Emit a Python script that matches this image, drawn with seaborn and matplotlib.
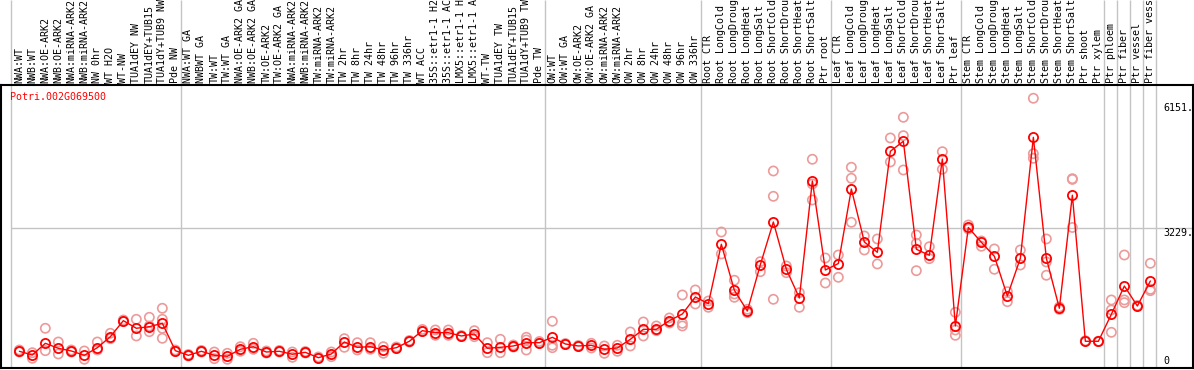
import numpy as np
import pandas as pd
import matplotlib
matplotlib.use("Agg")
import matplotlib.pyplot as plt
import seaborn as sns

gene_id = "Potri.002G069500"

sample_labels = [
    "NWA:WT", "NWB:WT", "NWA:OE-ARK2", "NWB:OE-ARK2", "NWA:miRNA-ARK2", "NWB:miRNA-ARK2",
    "NW 0hr", "WT H2O", "WT-NW", "TUA1dEY NW", "TUA1dEY+TUB15", "TUA1dY+TUB9 NW", "Pde NW",
    "NWA:WT GA", "NWBWT GA", "TW:WT", "TW:WT GA", "NWA:OE-ARK2 GA", "NWB:OE-ARK2 GA",
    "TW:OE-ARK2", "TW:OE-ARK2 GA", "NWA:miRNA-ARK2", "NWB:miRNA-ARK2", "TW:miRNA-ARK2",
    "TW:miRNA-ARK2", "TW 2hr", "TW 8hr", "TW 24hr", "TW 48hr", "TW 96hr", "TW 336hr",
    "WT ACC", "35S::etr1-1 H2", "35S::etr1-1 AC", "LMX5::etr1-1 H", "LMX5::etr1-1 A",
    "WT-TW", "TUA1dEY TW", "TUA1dEY+TUB15", "TUA1dY+TUB9 TW", "Pde TW",
    "OW:WT", "OW:WT GA", "OW:OE-ARK2", "OW:OE-ARK2 GA", "OW:miRNA-ARK2", "OW:miRNA-ARK2",
    "OW 2hr", "OW 8hr", "OW 24hr", "OW 48hr", "OW 96hr", "OW 336hr",
    "Root CTR", "Root LongCold", "Root LongDroug", "Root LongHeat", "Root LongSalt",
    "Root ShortCold", "Root ShortDrou", "Root ShortHeat", "Root ShortSalt", "Ptr root",
    "Leaf CTR", "Leaf LongCold", "Leaf LongDroug", "Leaf LongHeat", "Leaf LongSalt",
    "Leaf ShortCold", "Leaf ShortDrou", "Leaf ShortHeat", "Leaf ShortSalt", "Ptr leaf",
    "Stem CTR", "Stem LongCold", "Stem LongDroug", "Stem LongHeat", "Stem LongSalt",
    "Stem ShortCold", "Stem ShortDrou", "Stem ShortHeat", "Stem ShortSalt", "Ptr shoot",
    "Ptr xylem", "Ptr phloem", "Ptr fiber", "Ptr vessel", "Ptr fiber vess",
]

mean_values = [
    344, 257, 531, 414, 351, 250, 428, 685, 1060, 882, 919, 999, 358,
    250, 344, 250, 227, 391, 451, 327, 344, 274, 320, 194, 281, 561, 437, 451, 374,
    428, 578, 826, 779, 779, 702, 748, 414, 437, 468, 545, 545,
    671, 515, 468, 484, 391, 421, 624, 858, 858, 1060, 1216, 1614,
    1457, 2847, 1771, 1286, 2369, 3368, 2262, 1591, 4327, 2245,
    2397, 4140, 2900, 2659, 5022, 5256, 2730, 2589, 4842, 936,
    3240, 2893, 2566, 1637, 2519, 5349, 2519, 1350, 3995, 578,
    578, 1209, 1871, 1403, 1988,
]

replicate_values = [
    [374, 327], [311, 180], [882, 358], [561, 281], [327, 374], [351, 157],
    [561, 374], [765, 639], [1076, 1041], [1092, 702], [1139, 802, 936],
    [1350, 1092, 882, 648], [374, 339],
    [269, 234], [363, 327], [327, 171], [297, 157], [451, 344], [531, 391],
    [351, 304], [363, 327], [327, 203], [339, 304], [211, 180], [327, 218],
    [639, 437], [545, 374], [545, 391], [451, 297], [444, 409], [596, 561],
    [854, 807], [842, 718], [842, 718], [713, 690], [826, 685], [545, 311],
    [624, 311], [491, 444], [671, 374, 608], [531, 573],
    [1046, 484, 428], [526, 503], [479, 456], [531, 421], [468, 297], [484, 344],
    [795, 468], [1029, 702], [936, 826], [1123, 1006], [1661, 999, 936], [1778, 1450],
    [1520, 1373], [3134, 2620], [2005, 1684, 1607], [1326, 1247], [2440, 2206],
    [4561, 3969, 1560], [2339, 2182], [1714, 1373], [4835, 4257, 3883], [2526, 1941],
    [2596, 2075], [4648, 4390, 3361], [3041, 2713], [2971, 2386], [5333, 4772],
    [5817, 5387, 4584], [3064, 2870, 2229], [2790, 2510], [5012, 4601], [1256, 718, 842],
    [3298, 3204], [2924, 2800], [2737, 2262], [1738, 1504], [2713, 2362],
    [6262, 4966, 4858], [2971, 2433, 2122], [1380, 1322], [4381, 4364, 3240], [578, 590],
    [578, 570], [1544, 1310, 788], [2596, 1544, 1481], [1415, 1403], [2402, 1794, 1761],
]

group_ends = [12, 40, 52, 62, 72, 83, 84, 85, 86, 87]
y_tick_values = [6151, 3229, 0]
y_tick_texts = ["6151.", "3229.", "0"]

sns.set_theme(style="white")
plt.rcParams["font.family"] = ["DejaVu Sans Mono", "DejaVu Sans"]

W, H = 1194, 370
fig = plt.figure(figsize=(W / 100, H / 100), dpi=100)
ax = fig.add_axes([1 / W, 2 / H, 1192 / W, 283 / H])

xs = np.arange(len(sample_labels))
df_mean = pd.DataFrame({"x": xs, "v": mean_values})
rows = [(i, r) for i, reps in enumerate(replicate_values) for r in reps]
df_rep = pd.DataFrame(rows, columns=["x", "v"])

grid_col = "#c4c4c4"
x_left, x_right = -1.41, 90.28
ax.set_xlim(x_left, x_right)
ax.set_ylim(-47, 6572)

# separators (extend through the label area)
sep_x = [-0.66] + [g + 0.4 for g in group_ends]
ax.vlines(sep_x, 0, 1.3, transform=ax.get_xaxis_transform(), colors=grid_col,
          lw=1.0, clip_on=False, zorder=1)
ax.hlines(y_tick_values[1], -0.66, x_right, colors=grid_col, lw=1.0, zorder=1)

sns.scatterplot(data=df_rep, x="x", y="v", ax=ax, marker="o", s=44,
                facecolor="none", edgecolor="#ec9a9a", linewidth=1.2, zorder=3,
                legend=False)
sns.lineplot(data=df_mean, x="x", y="v", ax=ax, color="red", lw=1.0,
             marker="o", markersize=6.6, markerfacecolor="none",
             markeredgecolor="red", markeredgewidth=1.3, zorder=4)

ax.set_xticks(xs)
ax.set_xticklabels(sample_labels, rotation=90, fontsize=7.2)
ax.xaxis.tick_top()
ax.tick_params(axis="x", length=0, pad=1.5, top=True, labeltop=True,
               bottom=False, labelbottom=False, colors="black")
ax.set_yticks([])
ax.set_xlabel("")
ax.set_ylabel("")

for sp in ax.spines.values():
    sp.set_color("black")
    sp.set_linewidth(1.5)

for val, txt in zip(y_tick_values, y_tick_texts):
    va = "bottom" if val == 0 else "top"
    ax.text(87.98, val, txt, ha="left", va=va, fontsize=7.2, color="black")

ax.text(-0.75, 6292, gene_id, ha="left", va="center", fontsize=7.2, color="red")

fig.savefig("out.png", dpi=100)
